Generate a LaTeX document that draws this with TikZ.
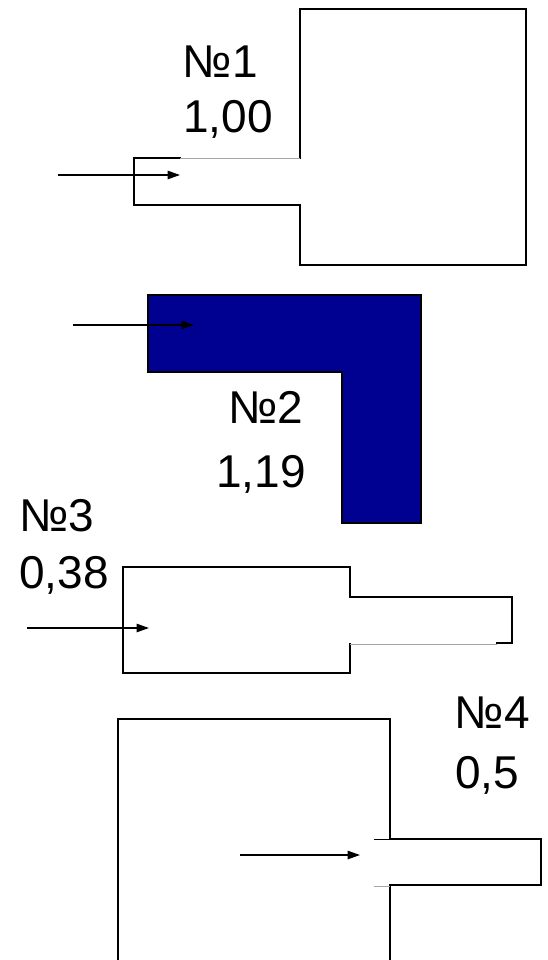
\documentclass[tikz,border=0pt]{standalone}
\usepackage{fontspec}
\setmainfont{Liberation Sans}
\usetikzlibrary{arrows.meta}
\definecolor{ductblue}{RGB}{0,0,145}

\begin{document}
\begin{tikzpicture}[
  x=1pt, y=-1pt,
  >={Triangle[length=12.5pt,width=8.5pt]},
  every node/.style={font=\fontsize{46}{50}\selectfont, inner sep=0pt, anchor=base west},
  wall/.style={line width=1.3pt, line cap=rect},
  seam/.style={line width=0.8pt, gray!70},
  flow/.style={->, line width=1.3pt}
]
\useasboundingbox (0, 0) rectangle (548, 960);

% ---- No 1 ----
\draw[wall] (180, 158) -- (134, 158) -- (134, 205) -- (300, 205) -- (300, 265)
  -- (526, 265) -- (526, 9) -- (300, 9) -- (300, 158);
\draw[seam] (180, 158) -- (300, 158);
\node (nameA) at (182.5, 78) {№1};
\node (valueA) at (183, 133) {1,00};
\coordinate (inA) at (58, 175);
\coordinate (outA) at (180, 175);
\draw[flow] (inA) -- (outA);

% ---- No 2 ----
\draw[wall, fill=ductblue] (148, 295) -- (421, 295) -- (421, 523) -- (342, 523)
  -- (342, 372) -- (148, 372) -- cycle;
\node (nameB) at (228, 423) {№2};
\node (valueB) at (216, 487) {1,19};
\coordinate (inB) at (73, 325);
\coordinate (outB) at (194, 325);
\draw[flow] (inB) -- (outB);

% ---- No 3 ----
\draw[wall] (350, 644) -- (350, 673) -- (123, 673) -- (123, 567) -- (350, 567)
  -- (350, 597) -- (512, 597) -- (512, 643) -- (497, 643);
\draw[seam] (350, 644) -- (497, 644);
\node (nameC) at (19, 531) {№3};
\node (valueC) at (19, 588) {0,38};
\coordinate (inC) at (27, 628);
\coordinate (outC) at (149, 628);
\draw[flow] (inC) -- (outC);

% ---- No 4 ----
\draw[wall] (118, 960) -- (118, 719) -- (390, 719) -- (390, 839) -- (541, 839)
  -- (541, 885) -- (390, 885) -- (390, 960);
\draw[line width=0.8pt] (374, 839) -- (390, 839);
\draw[seam] (374, 886) -- (390, 886);
\node (nameD) at (454.5, 728) {№4};
\node (valueD) at (455, 788) {0,5};
\coordinate (inD) at (240, 855);
\coordinate (outD) at (360, 855);
\draw[flow] (inD) -- (outD);

\end{tikzpicture}
\end{document}
